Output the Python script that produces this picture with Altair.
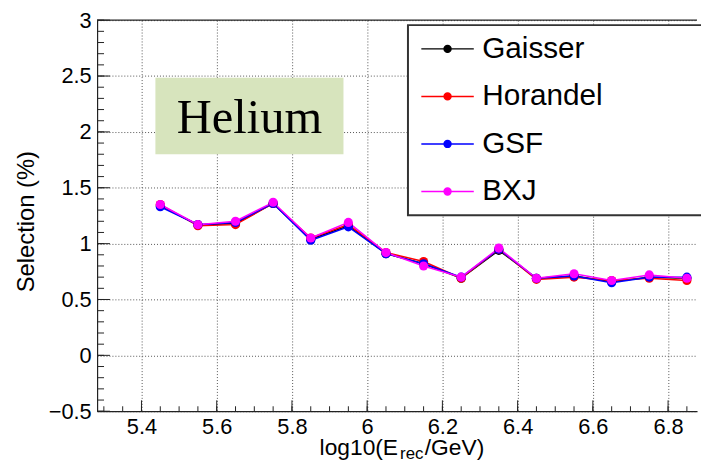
import altair as alt
import pandas as pd

# ---------------- data ----------------
energy_bins = [5.45, 5.55, 5.65, 5.75, 5.85, 5.95, 6.05, 6.15, 6.25, 6.35, 6.45, 6.55, 6.65, 6.75, 6.85]
series_names = ["Gaisser", "Horandel", "GSF", "BXJ"]
series_colors = ["#000000", "#ff0000", "#0000ff", "#ff00ff"]
gaisser = [1.34, 1.17, 1.18, 1.36, 1.04, 1.16, 0.91, 0.82, 0.69, 0.94, 0.69, 0.71, 0.66, 0.70, 0.69]
horandel = [1.35, 1.16, 1.17, 1.36, 1.05, 1.17, 0.92, 0.84, 0.69, 0.95, 0.68, 0.70, 0.67, 0.69, 0.67]
gsf = [1.33, 1.17, 1.19, 1.36, 1.03, 1.15, 0.91, 0.82, 0.70, 0.95, 0.69, 0.71, 0.65, 0.70, 0.70]
bxj = [1.35, 1.17, 1.20, 1.37, 1.05, 1.19, 0.92, 0.80, 0.70, 0.96, 0.69, 0.73, 0.67, 0.72, 0.69]

x_tick_values = [5.4, 5.6, 5.8, 6.0, 6.2, 6.4, 6.6, 6.8]
y_tick_values = [-0.5, 0.0, 0.5, 1.0, 1.5, 2.0, 2.5, 3.0]
x_minor_ticks = [round(5.3 + 0.05 * i, 2) for i in range(32)]
y_minor_ticks = [round(-0.5 + 0.1 * i, 1) for i in range(36)]
x_domain = [5.282, 6.877]
y_domain = [-0.5, 3.0]

x_title_parts = ["log10(E", "rec", "/GeV)"]
y_title = "Selection (%)"

tag_text = ["Helium"]
tag_box_x = [5.437, 5.937]
tag_box_y = [1.80, 2.485]
tag_pos = [5.687, 1.99]

# ---------------- tables ----------------
rows = []
for name, vals in zip(series_names, [gaisser, horandel, gsf, bxj]):
    for xv, yv in zip(energy_bins, vals):
        rows.append({"x": xv, "y": yv, "series": name})
df = pd.DataFrame(rows)

W, H = 606, 395
FONT = "Liberation Sans"

xs = alt.Scale(domain=x_domain, nice=False, zero=False)
ys = alt.Scale(domain=y_domain, nice=False, zero=False)
cs_stroke = alt.Scale(domain=series_names, range=series_colors)
cs_fill = alt.Scale(domain=series_names, range=series_colors)

sym_path = ("M-2,0L2,0M-0.264,0A0.264,0.264,0,1,1,0.264,0"
            "A0.264,0.264,0,1,1,-0.264,0Z")
legend = alt.Legend(
    orient="none", legendX=314, legendY=5,
    title="MMMMM", titleOrient="right", titleOpacity=0, titleFontSize=29,
    titleLimit=400, titlePadding=4,
    symbolType=sym_path, symbolSize=702, symbolStrokeWidth=1.5,
    symbolOpacity=1, symbolOffset=16,
    labelFont=FONT, labelFontSize=30, labelColor="black",
    labelOffset=20, labelLimit=500,
    padding=9, rowPadding=18,
    strokeColor="#333", fillColor="white",
)

x_axis = alt.Axis(
    values=x_tick_values, format="~g", grid=True, gridColor="#555",
    gridDash=[1, 2], tickSize=0, domain=True, domainColor="#222",
    domainWidth=1.2, labelFont=FONT, labelFontSize=22, labelColor="black",
    labelPadding=6, title=None,
)
y_axis = alt.Axis(
    values=y_tick_values, format="~g", grid=True, gridColor="#555",
    gridDash=[1, 2], tickSize=0, domain=True, domainColor="#222",
    domainWidth=1.2, labelFont=FONT, labelFontSize=22, labelColor="black",
    labelPadding=6, title=y_title, titleFont=FONT, titleFontSize=24,
    titleFontWeight="normal", titleColor="black", titleX=-71, titleY=203,
    titleBaseline="middle",
)

tag_df = pd.DataFrame({"x1": [tag_box_x[0]], "x2": [tag_box_x[1]],
                       "y1": [tag_box_y[0]], "y2": [tag_box_y[1]],
                       "tx": [tag_pos[0]], "ty": [tag_pos[1]], "t": tag_text})


def X(field):
    return alt.X(field, scale=xs, axis=x_axis)


def Y(field):
    return alt.Y(field, scale=ys, axis=y_axis)


lines = alt.Chart(df).mark_line(strokeWidth=1.5).encode(
    x=X("x:Q"), y=Y("y:Q"),
    stroke=alt.Stroke("series:N", scale=cs_stroke, legend=legend),
)
points = alt.Chart(df).mark_circle(size=85, opacity=1).encode(
    x=X("x:Q"), y=Y("y:Q"),
    fill=alt.Fill("series:N", scale=cs_fill, legend=legend),
)

tag_rect = alt.Chart(tag_df).mark_rect(color="#d7e4bd").encode(
    x=X("x1:Q"), x2="x2:Q", y=Y("y1:Q"), y2="y2:Q",
)
tag_label = alt.Chart(tag_df).mark_text(
    font="Liberation Serif", fontSize=49, align="center",
    baseline="alphabetic", color="black",
).encode(x=X("tx:Q"), y=Y("ty:Q"), text="t:N")

# ticks drawn inside the frame (ROOT style)
xmaj = alt.Chart(pd.DataFrame({"x": x_tick_values})).mark_rule(color="#222").encode(
    x=X("x:Q"), y=alt.value(H), y2=alt.value(H - 11))
xmin = alt.Chart(pd.DataFrame({"x": x_minor_ticks})).mark_rule(color="#222").encode(
    x=X("x:Q"), y=alt.value(H), y2=alt.value(H - 5))
ymaj = alt.Chart(pd.DataFrame({"y": y_tick_values})).mark_rule(color="#222").encode(
    y=Y("y:Q"), x=alt.value(0), x2=alt.value(13))
ymin = alt.Chart(pd.DataFrame({"y": y_minor_ticks})).mark_rule(color="#222").encode(
    y=Y("y:Q"), x=alt.value(0), x2=alt.value(7))

top_frame = alt.Chart(pd.DataFrame({"a": [0]})).mark_rule(
    color="#222", strokeWidth=1.2).encode(
    x=alt.value(0), x2=alt.value(W), y=alt.value(0))

# x title with subscript
xt_main1 = alt.Chart(pd.DataFrame({"t": [x_title_parts[0]]})).mark_text(
    font=FONT, fontSize=23, align="right", baseline="alphabetic", color="black"
).encode(x=alt.value(304), y=alt.value(439), text="t:N")
xt_sub = alt.Chart(pd.DataFrame({"t": [x_title_parts[1]]})).mark_text(
    font=FONT, fontSize=17, align="left", baseline="alphabetic", color="black"
).encode(x=alt.value(306), y=alt.value(443.5), text="t:N")
xt_main2 = alt.Chart(pd.DataFrame({"t": [x_title_parts[2]]})).mark_text(
    font=FONT, fontSize=23, align="left", baseline="alphabetic", color="black"
).encode(x=alt.value(331), y=alt.value(439), text="t:N")

chart = alt.layer(
    lines, tag_rect, tag_label, points, xmaj, xmin, ymaj, ymin, top_frame,
    xt_main1, xt_sub, xt_main2,
).properties(
    width=W, height=H,
    padding={"left": 90, "top": 10, "right": 4, "bottom": 49},
    autosize=alt.AutoSizeParams(type="none"),
).configure_view(
    stroke="transparent"
).configure_legend(
    strokeWidth=2
)

chart.save("out.html", embed_options={"renderer": "svg", "actions": False})
